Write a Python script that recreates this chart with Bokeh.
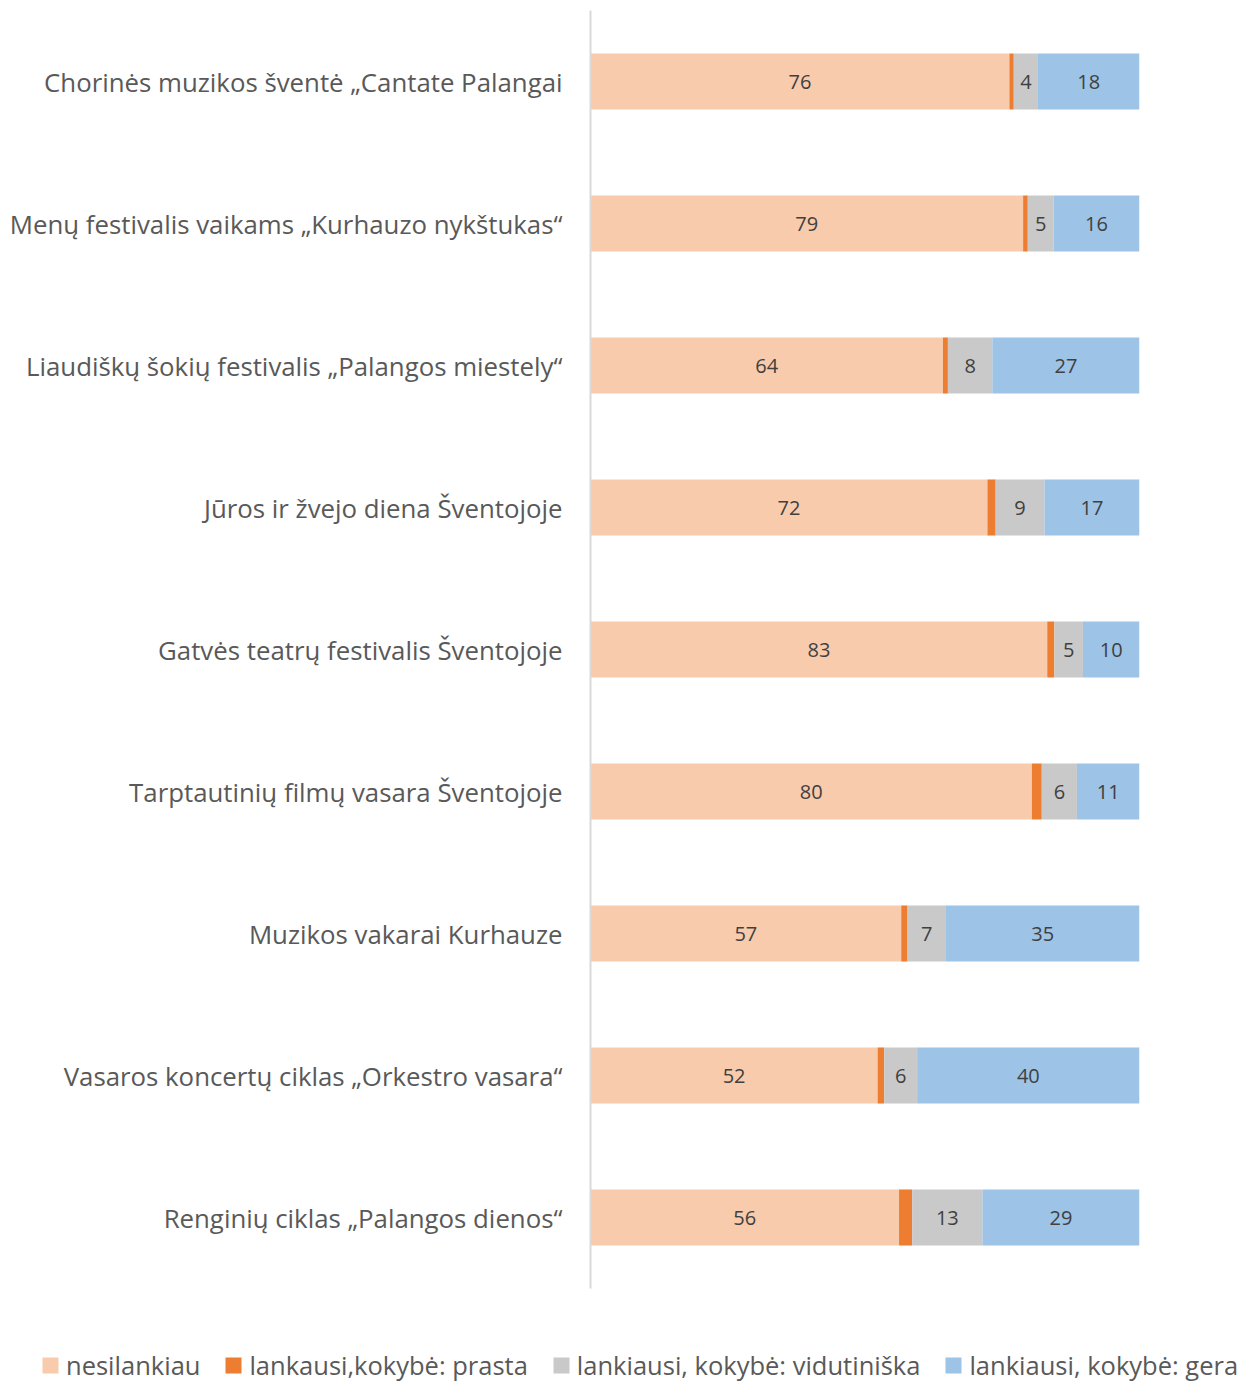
from bokeh.plotting import figure
from bokeh.layouts import column
from bokeh.models import ColumnDataSource, FactorRange, Range1d, Legend, LegendItem
from bokeh.core.properties import value
from bokeh.embed import file_html
from bokeh.resources import INLINE

categories = [
    "Chorinės muzikos šventė „Cantate Palangai",
    "Menų festivalis vaikams „Kurhauzo nykštukas“",
    "Liaudiškų šokių festivalis „Palangos miestely“",
    "Jūros ir žvejo diena Šventojoje",
    "Gatvės teatrų festivalis Šventojoje",
    "Tarptautinių filmų vasara Šventojoje",
    "Muzikos vakarai Kurhauze",
    "Vasaros koncertų ciklas „Orkestro vasara“",
    "Renginių ciklas „Palangos dienos“",
]
nesilankiau = [76.3, 78.8, 64.2, 72.3, 83.2, 80.4, 56.6, 52.3, 56.2]
prasta = [0.8, 0.85, 0.9, 1.5, 1.3, 1.8, 1.15, 1.2, 2.4]
vidutiniska = [4.4, 4.7, 8.1, 8.9, 5.2, 6.4, 7.0, 6.0, 12.8]
gera = [18.5, 15.65, 26.8, 17.3, 10.3, 11.4, 35.25, 40.5, 28.6]

series_names = ["nesilankiau", "lankausi,kokybė: prasta",
                "lankiausi, kokybė: vidutiniška", "lankiausi, kokybė: gera"]
colors = ["#F8CBAD", "#ED7D31", "#C9C9C9", "#9DC3E6"]
FONT = "Open Sans"

src = ColumnDataSource(dict(cat=categories, s0=nesilankiau, s1=prasta,
                            s2=vidutiniska, s3=gera))

W, H = 1250, 1300
FL, FR, FT, FB = 590, 1139, 10, 1288
p = figure(width=W, height=H, output_backend="svg", toolbar_location=None,
           y_range=FactorRange(factors=list(reversed(categories)), range_padding=0),
           x_range=Range1d(0, 100),
           min_border_left=FL, min_border_right=W - FR,
           min_border_top=FT, min_border_bottom=H - FB)
p.frame_align = False
p.outline_line_color = None
p.background_fill_color = "white"
p.border_fill_color = "white"

renderers = p.hbar_stack(["s0", "s1", "s2", "s3"], y="cat", height=0.395,
                         color=colors, source=src, line_color=None)

# data labels
lx, ly, lt = [], [], []
for i, c in enumerate(categories):
    a = nesilankiau[i]
    b = a + prasta[i]
    d = b + vidutiniska[i]
    e = d + gera[i]
    for mid, v in ((a / 2, nesilankiau[i]), ((b + d) / 2, vidutiniska[i]), ((d + e) / 2, gera[i])):
        lx.append(mid)
        ly.append(c)
        lt.append("{:.0f}".format(v))
lsrc = ColumnDataSource(dict(x=lx, y=ly, t=lt))
p.text(x="x", y="y", text="t", source=lsrc, text_align="center", text_baseline="middle",
       text_font=value(FONT), text_font_size="20px", text_color="#404040")

p.xaxis.visible = False
p.xgrid.visible = False
p.ygrid.visible = False
ax = p.yaxis[0]
ax.axis_line_color = "#D9D9D9"
ax.axis_line_width = 2
ax.major_tick_line_color = None
ax.minor_tick_line_color = None
ax.major_label_text_font = FONT
ax.major_label_text_font_size = "25.8px"
ax.major_label_text_color = "#595959"
ax.major_label_standoff = 22

# legend in a separate strip below the chart
H2 = 82
lg = figure(width=W, height=H2, output_backend="svg", toolbar_location=None,
            x_axis_location=None, y_axis_location=None,
            x_range=Range1d(0, 1), y_range=Range1d(0, 1),
            min_border_left=0, min_border_right=0, min_border_top=0, min_border_bottom=0)
lg.frame_align = False
lg.outline_line_color = None
lg.xgrid.visible = False
lg.ygrid.visible = False
swatch = ColumnDataSource(dict(y=[0.5], l=[0], r=[0]))
lrs = [lg.hbar(y="y", left="l", right="r", height=0, source=swatch, color=c, line_color=None)
       for c in colors]
legend = Legend(items=[LegendItem(label=n, renderers=[r]) for n, r in zip(series_names, lrs)],
                orientation="horizontal", location=(40, 0),
                glyph_width=20, glyph_height=20, label_standoff=6, spacing=23,
                padding=0, margin=0, border_line_color=None, background_fill_alpha=0,
                label_text_font=FONT, label_text_font_size="25.5px", label_text_color="#595959")
lg.add_layout(legend, "center")

open("out.html", "w").write(file_html(column(p, lg, spacing=0), INLINE))
